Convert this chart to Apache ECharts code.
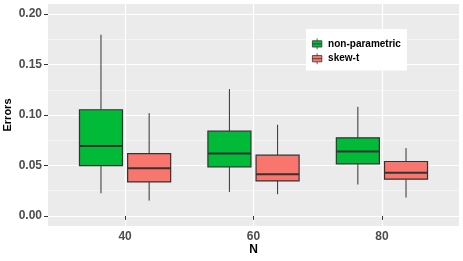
<!DOCTYPE html>
<html>
<head>
<meta charset="utf-8">
<script src="https://cdn.jsdelivr.net/npm/echarts@6/dist/echarts.min.js"></script>
<style>html,body{margin:0;padding:0;background:#fff;}#c{width:463px;height:261px;}</style>
</head>
<body>
<div id="c"></div>
<script>
// ---- data ----
const categories = ['40', '60', '80'];
const positions = [1, 2, 3];
// [min, Q1, median, Q3, max]
const nonParametric = [
  [0.0225, 0.0499, 0.0694, 0.1052, 0.1796],
  [0.0238, 0.0486, 0.0618, 0.0840, 0.1257],
  [0.0311, 0.0516, 0.0638, 0.0774, 0.1081]
];
const skewT = [
  [0.0152, 0.0337, 0.0473, 0.0618, 0.1019],
  [0.0215, 0.0347, 0.0414, 0.0602, 0.0903],
  [0.0182, 0.0364, 0.0427, 0.0539, 0.0672]
];
const yTicks = [0, 0.05, 0.10, 0.15, 0.20];
const yMinor = [0.025, 0.075, 0.125, 0.175];
const seriesNames = ['non-parametric', 'skew-t'];
const seriesColors = ['#00BA38', '#F8766D'];

const FONT = "'Liberation Sans', Arial, sans-serif";
const HALF = 0.1675;
const OFFSET = 0.1875;

function makeRender(offset, color) {
  return function (params, api) {
    const x = api.value(0) + offset;
    const mn = api.value(1), q1 = api.value(2), md = api.value(3), q3 = api.value(4), mx = api.value(5);
    const pL1 = api.coord([x - HALF, q1]);
    const pR3 = api.coord([x + HALF, q3]);
    const pMin = api.coord([x, mn]);
    const pMax = api.coord([x, mx]);
    const pQ1 = api.coord([x, q1]);
    const pQ3 = api.coord([x, q3]);
    const pMdL = api.coord([x - HALF, md]);
    const pMdR = api.coord([x + HALF, md]);
    const lineStyle = { stroke: '#333333', lineWidth: 1 };
    return {
      type: 'group',
      children: [
        { type: 'line', shape: { x1: pMax[0], y1: pMax[1], x2: pQ3[0], y2: pQ3[1] }, style: lineStyle },
        { type: 'line', shape: { x1: pMin[0], y1: pMin[1], x2: pQ1[0], y2: pQ1[1] }, style: lineStyle },
        { type: 'rect', shape: { x: pL1[0], y: pR3[1], width: pR3[0] - pL1[0], height: pL1[1] - pR3[1] },
          style: { fill: color, stroke: '#333333', lineWidth: 1.2 } },
        { type: 'line', shape: { x1: pMdL[0], y1: pMdL[1], x2: pMdR[0], y2: pMdR[1] },
          style: { stroke: '#333333', lineWidth: 2 } }
      ]
    };
  };
}

function toItems(arr) {
  return arr.map((v, i) => [positions[i]].concat(v));
}

const chart = echarts.init(document.getElementById('c'), null, { renderer: 'canvas' });
chart.setOption({
  animation: false,
  textStyle: { fontFamily: FONT },
  grid: {
    left: 48, top: 4, width: 411, height: 222,
    containLabel: false, outerBoundsMode: 'none',
    show: true, backgroundColor: '#EBEBEB', borderWidth: 0
  },
  legend: {
    data: seriesNames,
    orient: 'vertical',
    left: 306, top: 29,
    backgroundColor: '#FFFFFF',
    padding: [9, 6, 6, 6],
    itemGap: 3,
    itemWidth: 10, itemHeight: 11,
    icon: 'path://M6,0L6,3M0,3L12,3L12,11L0,11ZM0,7L12,7M6,11L6,14',
    itemStyle: { borderColor: '#333333', borderWidth: 0.8 },
    textStyle: { fontFamily: FONT, fontSize: 10, fontWeight: 'bold', color: '#000000', padding: [0, 0, 0, 1] },
    selectedMode: false
  },
  xAxis: {
    type: 'value', min: 0.4, max: 3.6,
    name: 'N', nameLocation: 'middle', nameGap: 18, nameMoveOverlap: false,
    nameTextStyle: { fontFamily: FONT, fontSize: 12, fontWeight: 'bold', color: '#000000' },
    axisLine: { show: false },
    axisTick: { show: true, length: 4, customValues: positions, lineStyle: { color: '#333333', width: 1 } },
    axisLabel: { customValues: positions, margin: 5, fontFamily: FONT, fontSize: 12, fontWeight: 'bold', color: '#4D4D4D',
      formatter: function (v) { return categories[Math.round(v) - 1]; } },
    splitLine: { show: true, lineStyle: { color: '#FFFFFF', width: 1.2 } }
  },
  yAxis: [{
    type: 'value', min: -0.01, max: 0.21,
    name: 'Errors', nameLocation: 'middle', nameGap: 35, nameRotate: 90, nameMoveOverlap: false,
    nameTextStyle: { fontFamily: FONT, fontSize: 11, fontWeight: 'bold', color: '#000000' },
    axisLine: { show: false },
    axisTick: { show: true, length: 4, customValues: yTicks, lineStyle: { color: '#333333', width: 1 } },
    axisLabel: { customValues: yTicks, margin: 6, fontFamily: FONT, fontSize: 12, fontWeight: 'bold', color: '#4D4D4D',
      formatter: function (v) { return v.toFixed(2); } },
    splitLine: { show: true, lineStyle: { color: '#FFFFFF', width: 1.2 } }
  }, {
    type: 'value', min: -0.01, max: 0.21, position: 'left',
    axisLine: { show: false },
    axisTick: { show: false, customValues: yMinor },
    axisLabel: { show: false, customValues: yMinor },
    splitLine: { show: true, lineStyle: { color: '#F6F6F6', width: 0.8 } }
  }],
  series: [
    {
      name: seriesNames[0], type: 'custom', clip: false, z: 3,
      itemStyle: { color: seriesColors[0] },
      encode: { x: 0, y: [1, 2, 3, 4, 5] },
      renderItem: makeRender(-OFFSET, seriesColors[0]),
      data: toItems(nonParametric)
    },
    {
      name: seriesNames[1], type: 'custom', clip: false, z: 3,
      itemStyle: { color: seriesColors[1] },
      encode: { x: 0, y: [1, 2, 3, 4, 5] },
      renderItem: makeRender(OFFSET, seriesColors[1]),
      data: toItems(skewT)
    }
  ]
});
</script>
</body>
</html>
